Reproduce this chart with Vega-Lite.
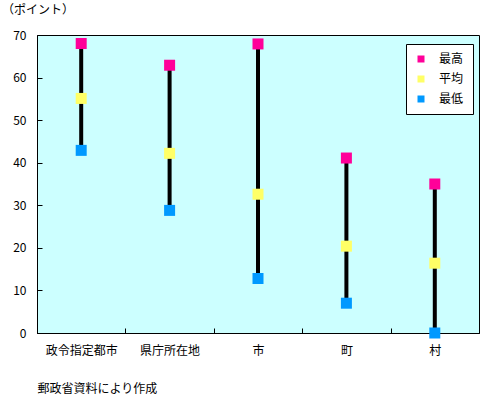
{
  "$schema": "https://vega.github.io/schema/vega-lite/v6.json",
  "width": 442,
  "height": 298,
  "autosize": {"type": "none"},
  "padding": {"left": 37, "top": 35, "right": 6, "bottom": 63},
  "background": "white",
  "title": {"text": "（ポイント）", "anchor": "start", "frame": "group", "dx": -35, "offset": 12, "fontSize": 12, "fontWeight": "normal", "font": "Noto Sans CJK JP", "color": "black"},
  "data": {"values": [
    {"cat": "政令指定都市", "stat": "最高", "value": 68},
    {"cat": "政令指定都市", "stat": "平均", "value": 55.1},
    {"cat": "政令指定都市", "stat": "最低", "value": 42.9},
    {"cat": "県庁所在地", "stat": "最高", "value": 62.9},
    {"cat": "県庁所在地", "stat": "平均", "value": 42.2},
    {"cat": "県庁所在地", "stat": "最低", "value": 28.8},
    {"cat": "市", "stat": "最高", "value": 67.9},
    {"cat": "市", "stat": "平均", "value": 32.6},
    {"cat": "市", "stat": "最低", "value": 12.8},
    {"cat": "町", "stat": "最高", "value": 41.1},
    {"cat": "町", "stat": "平均", "value": 20.4},
    {"cat": "町", "stat": "最低", "value": 7.0},
    {"cat": "村", "stat": "最高", "value": 35},
    {"cat": "村", "stat": "平均", "value": 16.4},
    {"cat": "村", "stat": "最低", "value": 0}
  ]},
  "encoding": {
    "x": {
      "field": "cat", "type": "nominal", "sort": null,
      "scale": {"paddingInner": 0, "paddingOuter": 0},
      "axis": {
        "title": "郵政省資料により作成", "titleAnchor": "start", "titleAlign": "left", "titlePadding": 27,
        "titleFontSize": 12, "titleFontWeight": "normal",
        "labelAngle": 0, "labelPadding": 17, "tickBand": "extent", "tickSize": -5,
        "labelFontSize": 12
      }
    }
  },
  "layer": [
    {
      "mark": {"type": "rule", "color": "black", "strokeWidth": 4},
      "encoding": {
        "y": {"aggregate": "min", "field": "value", "type": "quantitative"},
        "y2": {"aggregate": "max", "field": "value"}
      }
    },
    {
      "mark": {"type": "point", "shape": "square", "filled": true, "size": 121, "opacity": 1, "strokeWidth": 0},
      "encoding": {
        "y": {
          "field": "value", "type": "quantitative",
          "scale": {"domain": [0, 70], "nice": false, "zero": true},
          "axis": {"title": null, "values": [0,10,20,30,40,50,60,70], "tickSize": -5, "labelPadding": 16, "labelFontSize": 12, "grid": false}
        },
        "color": {
          "field": "stat", "type": "nominal",
          "scale": {"domain": ["最高", "平均", "最低"], "range": ["#FF0099", "#FFFF66", "#0099FF"]},
          "legend": {
            "title": null, "orient": "none", "legendX": 369, "legendY": 9,
            "symbolType": "square", "symbolSize": 49, "symbolStrokeWidth": 0, "symbolOpacity": 1,
            "labelFontSize": 12, "labelOffset": 12, "rowPadding": 8,
            "padding": 9, "fillColor": "white", "strokeColor": "black",
            "offset": 0
          }
        }
      }
    }
  ],
  "config": {
    "font": "Noto Sans CJK JP",
    "view": {"fill": "#CCFFFF", "stroke": "black", "strokeWidth": 1},
    "axis": {"domainColor": "black", "tickColor": "black", "labelColor": "black", "titleColor": "black", "labelFont": "Noto Sans CJK JP", "titleFont": "Noto Sans CJK JP", "domainWidth": 1, "tickWidth": 1},
    "legend": {"labelColor": "black", "labelFont": "Noto Sans CJK JP"}
  }
}
